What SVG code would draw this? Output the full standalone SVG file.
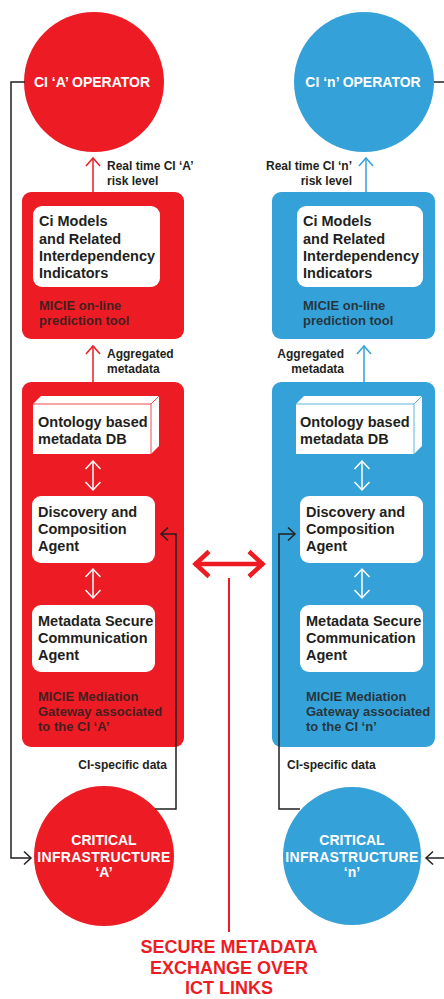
<svg xmlns="http://www.w3.org/2000/svg" width="444" height="999" viewBox="0 0 444 999">
<style>
text{font-family:"Liberation Sans",Arial,sans-serif;font-weight:bold}
.red{fill:#ed1c24}
.blue{fill:#35a1d9}
.wbox{fill:#fff}
.t{font-size:14.5px;fill:#231f20}
.cap{font-size:13px;fill:#231f20;fill-opacity:0.85}
.lbl{font-size:12px;fill:#231f20}
.circ{font-size:14px;fill:#fff;text-anchor:middle}
.title{font-size:18px;fill:#ed1c24;text-anchor:middle}
.k{fill:none;stroke:#231f20;stroke-width:1.5}
.wa{fill:none;stroke:#fff;stroke-width:1.5}
</style>
<defs>
<marker id="vk" markerUnits="userSpaceOnUse" markerWidth="20" markerHeight="20" refX="0" refY="0" viewBox="-10 -10 20 20" orient="auto" overflow="visible"><path d="M-7,-6.5 L0,0 L-7,6.5" fill="none" stroke="#231f20" stroke-width="1.5"/></marker>
<marker id="vr" markerUnits="userSpaceOnUse" markerWidth="20" markerHeight="20" refX="0" refY="0" viewBox="-10 -10 20 20" orient="auto" overflow="visible"><path d="M-8,-7 L0,0 L-8,7" fill="none" stroke="#ed1c24" stroke-width="1.5"/></marker>
<marker id="vb" markerUnits="userSpaceOnUse" markerWidth="20" markerHeight="20" refX="0" refY="0" viewBox="-10 -10 20 20" orient="auto" overflow="visible"><path d="M-8,-7 L0,0 L-8,7" fill="none" stroke="#35a1d9" stroke-width="1.5"/></marker>
<marker id="vw" markerUnits="userSpaceOnUse" markerWidth="20" markerHeight="20" refX="0" refY="0" viewBox="-10 -10 20 20" orient="auto-start-reverse" overflow="visible"><path d="M-8,-7.5 L0,0 L-8,7.5" fill="none" stroke="#fff" stroke-width="1.5"/></marker>
<marker id="vbig" markerUnits="userSpaceOnUse" markerWidth="40" markerHeight="40" refX="0" refY="0" viewBox="-20 -20 40 40" orient="auto-start-reverse" overflow="visible"><path d="M-15,-12.5 L-1.5,0 L-15,12.5" fill="none" stroke="#ed1c24" stroke-width="4.5"/></marker>
</defs>

<!-- left (A) side -->
<g id="op-a">
<circle cx="94" cy="82" r="70" class="red"/>
<text class="circ" x="92" y="87">CI ‘A’ OPERATOR</text>
</g>
<g id="pred-a">
<rect x="22" y="192" width="162" height="147" rx="9" class="red"/>
<rect x="33" y="206" width="127" height="81" rx="9" class="wbox"/>
<text class="t" x="39" y="226">Ci Models</text>
<text class="t" x="39" y="243.5">and Related</text>
<text class="t" x="39" y="261">Interdependency</text>
<text class="t" x="39" y="278">Indicators</text>
<text class="cap" x="39" y="310">MICIE on-line</text>
<text class="cap" x="39" y="325">prediction tool</text>
</g>
<g id="gw-a">
<rect x="22" y="382" width="162" height="365" rx="9" class="red"/>
<g id="db-a">
<path d="M33,404 L41,396 L159,396 L159,446 L151,454 L33,454 Z" fill="#fff"/>
<path d="M33,404 L151,404 L159,396 M151,404 L151,454" fill="none" stroke="#ed1c24" stroke-width="0.8"/>
<text class="t" x="38" y="427">Ontology based</text>
<text class="t" x="38" y="443.5">metadata DB</text>
</g>
<g id="disc-a">
<rect x="32" y="496" width="123" height="67" rx="9" class="wbox"/>
<text class="t" x="38" y="517">Discovery and</text>
<text class="t" x="38" y="534">Composition</text>
<text class="t" x="38" y="551">Agent</text>
</g>
<g id="msc-a">
<rect x="32" y="605" width="123" height="67" rx="9" class="wbox"/>
<text class="t" x="38" y="626">Metadata Secure</text>
<text class="t" x="38" y="643">Communication</text>
<text class="t" x="38" y="660">Agent</text>
</g>
<text class="cap" x="38" y="701">MICIE Mediation</text>
<text class="cap" x="38" y="716">Gateway associated</text>
<text class="cap" x="38" y="731">to the CI ‘A’</text>
</g>
<g id="ci-a">
<circle cx="104" cy="856" r="70" class="red"/>
<text class="circ" x="104" y="845">CRITICAL</text>
<text class="circ" x="104" y="862" letter-spacing="0.3">INFRASTRUCTURE</text>
<text class="circ" x="104" y="877">‘A’</text>
</g>

<!-- right (n) side -->
<g id="op-n">
<circle cx="364" cy="82" r="70" class="blue"/>
<text class="circ" x="363" y="87">CI ‘n’ OPERATOR</text>
</g>
<g id="pred-n">
<rect x="272" y="192" width="163" height="147" rx="9" class="blue"/>
<rect x="297" y="206" width="126" height="81" rx="9" class="wbox"/>
<text class="t" x="303" y="226">Ci Models</text>
<text class="t" x="303" y="243.5">and Related</text>
<text class="t" x="303" y="261">Interdependency</text>
<text class="t" x="303" y="278">Indicators</text>
<text class="cap" x="303" y="310">MICIE on-line</text>
<text class="cap" x="303" y="325">prediction tool</text>
</g>
<g id="gw-n">
<rect x="272" y="382" width="163" height="365" rx="9" class="blue"/>
<g id="db-n">
<path d="M296,404 L304,396 L422,396 L422,446 L414,454 L296,454 Z" fill="#fff"/>
<path d="M296,404 L414,404 L422,396 M414,404 L414,454" fill="none" stroke="#35a1d9" stroke-width="0.8"/>
<text class="t" x="300" y="427">Ontology based</text>
<text class="t" x="300" y="443.5">metadata DB</text>
</g>
<g id="disc-n">
<rect x="300" y="496" width="123" height="67" rx="9" class="wbox"/>
<text class="t" x="306" y="517">Discovery and</text>
<text class="t" x="306" y="534">Composition</text>
<text class="t" x="306" y="551">Agent</text>
</g>
<g id="msc-n">
<rect x="300" y="605" width="123" height="67" rx="9" class="wbox"/>
<text class="t" x="306" y="626">Metadata Secure</text>
<text class="t" x="306" y="643">Communication</text>
<text class="t" x="306" y="660">Agent</text>
</g>
<text class="cap" x="306" y="701">MICIE Mediation</text>
<text class="cap" x="306" y="716">Gateway associated</text>
<text class="cap" x="306" y="731">to the CI ‘n’</text>
</g>
<g id="ci-n">
<circle cx="352" cy="856" r="69" class="blue"/>
<text class="circ" x="352" y="845">CRITICAL</text>
<text class="circ" x="352" y="862" letter-spacing="0.3">INFRASTRUCTURE</text>
<text class="circ" x="352" y="877">‘n’</text>
</g>

<!-- connectors -->
<g id="connectors">
<line x1="93" y1="192" x2="93" y2="158" stroke="#ed1c24" stroke-width="1.5" marker-end="url(#vr)"/>
<line x1="93" y1="382" x2="93" y2="346" stroke="#ed1c24" stroke-width="1.5" marker-end="url(#vr)"/>
<line x1="366" y1="192" x2="366" y2="158" stroke="#35a1d9" stroke-width="1.5" marker-end="url(#vb)"/>
<line x1="364" y1="382" x2="364" y2="346" stroke="#35a1d9" stroke-width="1.5" marker-end="url(#vb)"/>
<line x1="93" y1="461" x2="93" y2="490" class="wa" marker-start="url(#vw)" marker-end="url(#vw)"/>
<line x1="93" y1="569" x2="93" y2="598" class="wa" marker-start="url(#vw)" marker-end="url(#vw)"/>
<line x1="362" y1="461" x2="362" y2="490" class="wa" marker-start="url(#vw)" marker-end="url(#vw)"/>
<line x1="362" y1="569" x2="362" y2="598" class="wa" marker-start="url(#vw)" marker-end="url(#vw)"/>
<polyline points="25,82 11,82 11,858 31,858" class="k" marker-end="url(#vk)"/>
<polyline points="434,82 446,82" class="k"/>
<polyline points="446,858 426,858" class="k" marker-end="url(#vk)"/>
<polyline points="155,809 176,809 176,534 161,534" class="k" marker-end="url(#vk)"/>
<polyline points="300,809 279,809 279,534 295,534" class="k" marker-end="url(#vk)"/>
<line x1="194" y1="564" x2="264" y2="564" stroke="#ed1c24" stroke-width="4.5" marker-start="url(#vbig)" marker-end="url(#vbig)"/>
<line x1="229" y1="578" x2="229" y2="932" stroke="#ed1c24" stroke-width="2"/>
</g>

<!-- labels -->
<g id="labels">
<text class="lbl" x="107" y="170">Real time CI ‘A’</text>
<text class="lbl" x="107" y="185">risk level</text>
<text class="lbl" x="107" y="358">Aggregated</text>
<text class="lbl" x="107" y="373">metadata</text>
<text class="lbl" x="352" y="170" text-anchor="end">Real time CI ‘n’</text>
<text class="lbl" x="352" y="185" text-anchor="end">risk level</text>
<text class="lbl" x="344" y="358" text-anchor="end">Aggregated</text>
<text class="lbl" x="344" y="373" text-anchor="end">metadata</text>
<text class="lbl" x="167" y="769" text-anchor="end" font-size="12.5">CI-specific data</text>
<text class="lbl" x="287" y="769" font-size="12.5">CI-specific data</text>
<text class="title" x="229" y="953">SECURE METADATA</text>
<text class="title" x="229" y="974">EXCHANGE OVER</text>
<text class="title" x="229" y="994">ICT LINKS</text>
</g>
</svg>
